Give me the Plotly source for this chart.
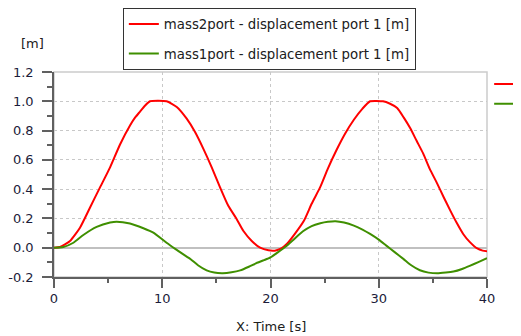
import plotly.graph_objects as go

# ---- data ----
t_red = [0, 0.55, 1.48, 2.4, 3.33, 4.25, 5.18, 6.1, 7.02, 7.5, 7.95, 8.4, 8.87,
         10.4, 11.34, 12.26, 13.03, 13.8, 14.57, 15.34, 16.1, 16.88, 17.5,
         18.27, 19.04, 19.81, 20.4, 21.0, 21.5, 22.3, 23.1, 23.8, 24.6,
         25.3, 26.1, 26.9, 27.7, 28.5, 29.2, 30.4, 31.0, 31.7, 32.3, 32.9, 33.5,
         34.1, 34.7, 35.4, 36.0, 36.6, 37.2, 37.8, 38.4, 39.1, 39.6, 40.0]
mass2port = [0.0, 0.005, 0.046, 0.137, 0.275, 0.412, 0.549, 0.705, 0.835,
             0.89, 0.93, 0.97, 1.0, 1.0, 0.961, 0.881, 0.79, 0.675, 0.549,
             0.412, 0.286, 0.195, 0.114, 0.046, 0.0, -0.018, -0.02, -0.005,
             0.025, 0.1, 0.186, 0.3, 0.415, 0.54, 0.667, 0.78, 0.874, 0.95, 1.0,
             1.0, 0.985, 0.954, 0.89, 0.817, 0.73, 0.644, 0.54, 0.438, 0.345,
             0.255, 0.17, 0.094, 0.04, -0.005, -0.02, -0.025]

t_green = [0, 0.86, 1.79, 2.71, 3.94, 5.18, 5.79, 7.02, 8.26, 9.18, 10.4,
           11.2, 11.95, 12.6, 13.3, 14.1, 14.8, 15.6, 16.4, 17.2,
           18.0, 18.7, 19.4, 20.0, 20.7, 21.5, 22.2, 23.0, 23.8, 24.6, 25.3,
           26.0, 26.8, 27.7, 28.5, 29.2, 30.0, 30.7, 31.5, 32.3, 33.0, 33.8,
           34.6, 35.4, 36.2, 36.9, 37.7, 38.4, 39.2, 40.0]
mass1port = [0.0, 0.005, 0.034, 0.087, 0.142, 0.172, 0.178, 0.165, 0.133,
             0.103, 0.034, -0.008, -0.046, -0.077,
             -0.12, -0.155, -0.17, -0.174, -0.168, -0.155, -0.13, -0.105,
             -0.085, -0.066, -0.03, 0.014, 0.06, 0.112, 0.148, 0.167, 0.177,
             0.181, 0.172, 0.151, 0.124, 0.094, 0.055, 0.014, -0.032, -0.078,
             -0.12, -0.154, -0.17, -0.175, -0.17, -0.163, -0.145, -0.124,
             -0.098, -0.071]

name_red = "mass2port - displacement port 1 [m]"
name_green = "mass1port - displacement port 1 [m]"
y_ticks = [-0.2, 0.0, 0.2, 0.4, 0.6, 0.8, 1.0, 1.2]
y_ticktext = ["-0.2", "0.0", "0.2", "0.4", "0.6", "0.8", "1.0", "1.2"]
x_ticks = [0, 10, 20, 30, 40]

RED = "#ff0000"
GREEN = "#3f8f00"
FONT = "DejaVu Sans"
TXT = "#1c1c3a"
FS = 13
LFS = 13.3

fig = go.Figure()
fig.add_trace(go.Scatter(x=t_red, y=mass2port, mode="lines", name=name_red,
                         line=dict(color=RED, width=2, shape="spline", smoothing=0.5),
                         legendgroup="a", legend="legend"))
fig.add_trace(go.Scatter(x=t_green, y=mass1port, mode="lines", name=name_green,
                         line=dict(color=GREEN, width=2, shape="spline", smoothing=0.5),
                         legendgroup="b", legend="legend"))
# second legend, cut off at the right edge of the window (only its line samples show)
fig.add_trace(go.Scatter(x=[None], y=[None], mode="lines", name=" ",
                         line=dict(color=RED, width=2), legend="legend2"))
fig.add_trace(go.Scatter(x=[None], y=[None], mode="lines", name=" ",
                         line=dict(color=GREEN, width=2), legend="legend2"))

grid = "#c8c8c8"
axis_col = "#606060"

# The page body has an 8px default margin, so the figure is drawn 8px in.
fig.update_layout(
    width=513, height=328,
    margin=dict(l=46, r=34, t=64, b=59, autoexpand=False),
    paper_bgcolor="white", plot_bgcolor="white",
    font=dict(family=FONT, size=FS, color=TXT),
    showlegend=True,
    legend=dict(x=0.159, y=1.01, xanchor="left", yanchor="bottom",
                bordercolor="#333333", borderwidth=1, bgcolor="white",
                font=dict(family=FONT, size=LFS, color="#202020"),
                tracegroupgap=9, traceorder="grouped"),
    legend2=dict(x=1.005, y=1.015, xanchor="left", yanchor="top",
                 borderwidth=0, bgcolor="rgba(0,0,0,0)",
                 font=dict(family=FONT, size=FS, color="#202020")),
    xaxis=dict(range=[0, 40], tickvals=x_ticks, showgrid=True,
               gridcolor=grid, griddash="dot", gridwidth=1,
               zeroline=False, showline=True, linecolor=axis_col, linewidth=1.5,
               ticks="outside", ticklen=9, tickcolor=axis_col, tickwidth=1.5,
               minor=dict(dtick=5, ticklen=4, tickcolor=axis_col, tickwidth=1.5,
                          showgrid=False),
               tickfont=dict(family=FONT, size=FS, color=TXT)),
    yaxis=dict(range=[-0.2, 1.2], tickvals=y_ticks, ticktext=y_ticktext,
               showgrid=True, gridcolor=grid, griddash="dot", gridwidth=1,
               zeroline=True, zerolinecolor="#c0c0c0", zerolinewidth=1.5,
               showline=True, linecolor=axis_col, linewidth=1.5,
               ticks="outside", ticklen=10, tickcolor=axis_col, tickwidth=1.5,
               ticklabelstandoff=6,
               minor=dict(dtick=0.1, ticklen=5, tickcolor=axis_col, tickwidth=1.5,
                          showgrid=False),
               tickfont=dict(family=FONT, size=FS, color=TXT)),
    shapes=[dict(type="rect", xref="paper", yref="paper", x0=0, x1=1, y0=0, y1=1,
                 line=dict(color="#cccccc", width=1.5), layer="below")],
    annotations=[
        dict(text="[m]", xref="paper", yref="paper", x=0, y=1, xshift=-22,
             yshift=29, showarrow=False, xanchor="center", yanchor="middle",
             font=dict(family=FONT, size=FS, color="#202020")),
        dict(text="X: Time [s]", xref="paper", yref="paper", x=0.5, y=0,
             yshift=-49, showarrow=False, xanchor="center", yanchor="middle",
             font=dict(family=FONT, size=FS, color="#202020")),
    ],
)

fig.write_html("out.html")
